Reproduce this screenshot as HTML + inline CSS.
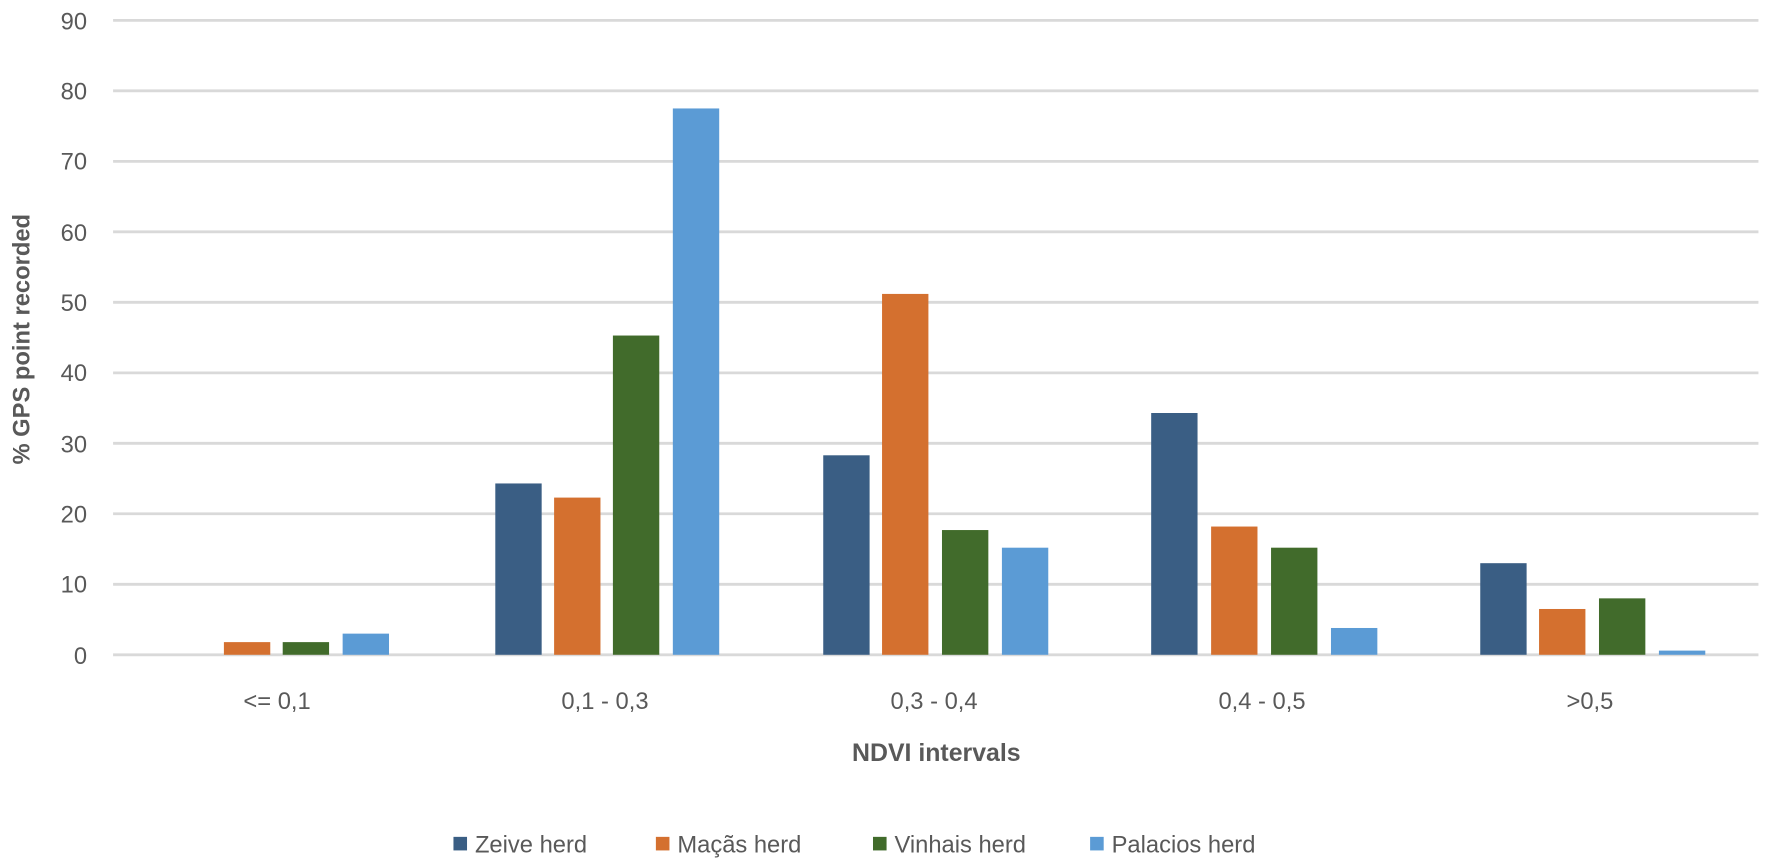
<!DOCTYPE html>
<html><head><meta charset="utf-8"><style>
html,body{margin:0;padding:0;background:#fff;}
svg{display:block;}
text{font-family:"Liberation Sans",Arial,sans-serif;}
</style></head><body>
<svg width="1772" height="864" viewBox="0 0 1567 764" preserveAspectRatio="none" xmlns="http://www.w3.org/2000/svg">
<rect width="1567" height="764" fill="#fff"/>
<g stroke="#d9d9d9" stroke-width="2.5">
<line x1="100" x2="1555" y1="18" y2="18"/>
<line x1="100" x2="1555" y1="80.3" y2="80.3"/>
<line x1="100" x2="1555" y1="142.7" y2="142.7"/>
<line x1="100" x2="1555" y1="205" y2="205"/>
<line x1="100" x2="1555" y1="267.3" y2="267.3"/>
<line x1="100" x2="1555" y1="329.7" y2="329.7"/>
<line x1="100" x2="1555" y1="392" y2="392"/>
<line x1="100" x2="1555" y1="454.3" y2="454.3"/>
<line x1="100" x2="1555" y1="516.7" y2="516.7"/>
<line x1="100" x2="1555" y1="579" y2="579"/>
</g>
<g fill="#595959" font-size="21" text-anchor="end">
<text x="77" y="26">90</text>
<text x="77" y="88">80</text>
<text x="77" y="150">70</text>
<text x="77" y="213">60</text>
<text x="77" y="275">50</text>
<text x="77" y="337">40</text>
<text x="77" y="400">30</text>
<text x="77" y="462">20</text>
<text x="77" y="524">10</text>
<text x="77" y="587">0</text>
</g>
<text transform="translate(26,300) rotate(-90)" text-anchor="middle" font-size="21" font-weight="bold" fill="#595959">% GPS point recorded</text>
<g id="bars">
<rect x="198" y="567.8" width="41" height="11.2" fill="#d4702f"/>
<rect x="250" y="567.8" width="41" height="11.2" fill="#416b2b"/>
<rect x="303" y="560.3" width="41" height="18.7" fill="#5b9bd5"/>
<rect x="438" y="427.5" width="41" height="151.5" fill="#3a5e84"/>
<rect x="490" y="440" width="41" height="139" fill="#d4702f"/>
<rect x="542" y="296.7" width="41" height="282.3" fill="#416b2b"/>
<rect x="595" y="95.9" width="41" height="483.1" fill="#5b9bd5"/>
<rect x="728" y="402.6" width="41" height="176.4" fill="#3a5e84"/>
<rect x="780" y="259.9" width="41" height="319.1" fill="#d4702f"/>
<rect x="833" y="468.7" width="41" height="110.3" fill="#416b2b"/>
<rect x="886" y="484.3" width="41" height="94.7" fill="#5b9bd5"/>
<rect x="1018" y="365.2" width="41" height="213.8" fill="#3a5e84"/>
<rect x="1071" y="465.6" width="41" height="113.4" fill="#d4702f"/>
<rect x="1124" y="484.3" width="41" height="94.7" fill="#416b2b"/>
<rect x="1177" y="555.3" width="41" height="23.7" fill="#5b9bd5"/>
<rect x="1309" y="498" width="41" height="81" fill="#3a5e84"/>
<rect x="1361" y="538.5" width="41" height="40.5" fill="#d4702f"/>
<rect x="1414" y="529.1" width="41" height="49.9" fill="#416b2b"/>
<rect x="1467" y="575.3" width="41" height="3.7" fill="#5b9bd5"/>
</g>
<g fill="#595959" font-size="21" text-anchor="middle">
<text x="245" y="627">&lt;= 0,1</text>
<text x="535" y="627">0,1 - 0,3</text>
<text x="826" y="627">0,3 - 0,4</text>
<text x="1116" y="627">0,4 - 0,5</text>
<text x="1406" y="627">&gt;0,5</text>
</g>
<text x="828" y="673" text-anchor="middle" font-size="22" font-weight="bold" fill="#595959">NDVI intervals</text>
<g font-size="21" fill="#595959">
<rect x="401" y="740" width="12" height="12" fill="#3a5e84"/><text x="420" y="754">Zeive herd</text>
<rect x="580" y="740" width="12" height="12" fill="#d4702f"/><text x="599" y="754">Maçãs herd</text>
<rect x="772" y="740" width="12" height="12" fill="#416b2b"/><text x="791" y="754">Vinhais herd</text>
<rect x="964" y="740" width="12" height="12" fill="#5b9bd5"/><text x="983" y="754">Palacios herd</text>
</g>
</svg>
</body></html>
